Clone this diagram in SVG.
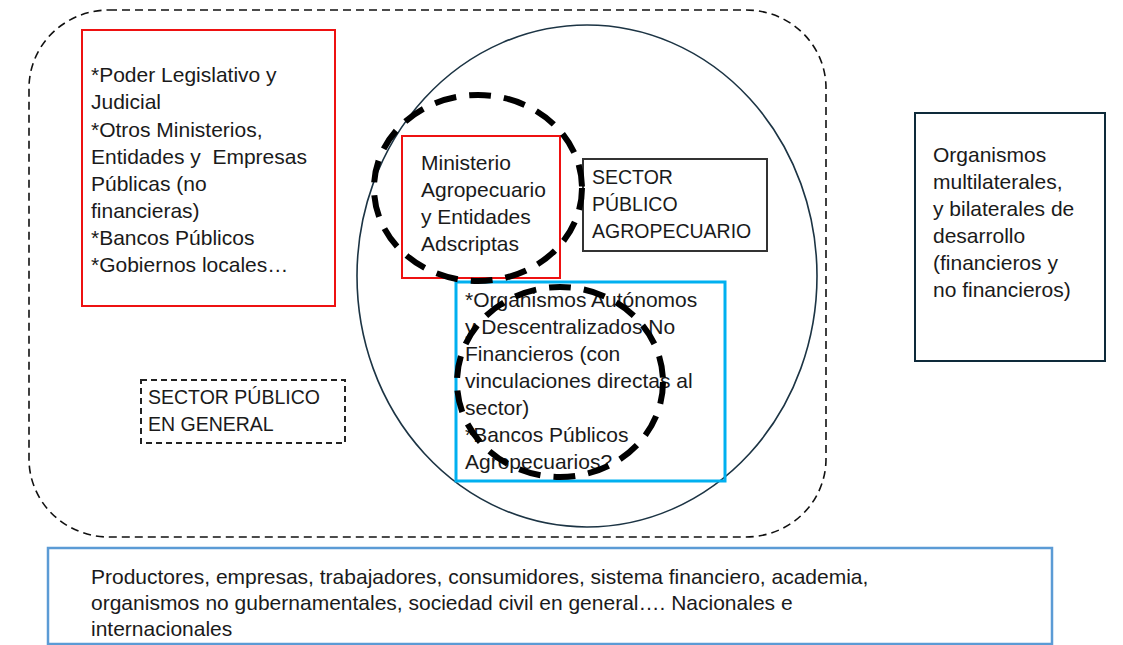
<svg xmlns="http://www.w3.org/2000/svg" width="1123" height="645" viewBox="0 0 1123 645">
<style>
text{font-family:"Liberation Sans",Arial,sans-serif;font-size:21px;fill:#1a1a1a}
text.caps{font-size:19.5px}
.box{fill:none}
.red{stroke:#ee1111;stroke-width:2}
.dc{fill:none;stroke:#000;stroke-width:6;stroke-dasharray:22 13}
</style>
<rect width="1123" height="645" fill="#fff"/>
<g id="sector-publico-general-area">
<rect x="29" y="10" width="797" height="527" rx="80" ry="78" fill="none" stroke="#111" stroke-width="1.6" stroke-dasharray="8 5"/>
</g>
<g id="sector-agro-ellipse">
<ellipse cx="587" cy="276" rx="230" ry="251" fill="none" stroke="#1c3444" stroke-width="1.6"/>
</g>
<g id="otros-entidades">
<rect class="box red" x="82" y="30" width="253" height="276"/>
<text x="91" y="82">*Poder Legislativo y</text>
<text x="91" y="109">Judicial</text>
<text x="91" y="136.5">*Otros Ministerios,</text>
<text x="91" y="163.5" xml:space="preserve">Entidades y  Empresas</text>
<text x="91" y="190.5">Públicas (no</text>
<text x="91" y="217.5">financieras)</text>
<text x="91" y="244.5">*Bancos Públicos</text>
<text x="91" y="271.5">*Gobiernos locales…</text>
</g>
<g id="ministerio">
<rect class="box red" x="402" y="136" width="158" height="142"/>
<text x="421" y="170">Ministerio</text>
<text x="421" y="197">Agropecuario</text>
<text x="421" y="224">y Entidades</text>
<text x="421" y="251">Adscriptas</text>
</g>
<g id="sector-agro-label">
<rect x="583" y="159" width="184" height="92" fill="none" stroke="#333" stroke-width="2"/>
<text class="caps" x="592" y="184">SECTOR</text>
<text class="caps" x="592" y="211">PÚBLICO</text>
<text class="caps" x="592" y="238">AGROPECUARIO</text>
</g>
<g id="organismos-autonomos">
<rect x="456" y="282" width="269" height="199" fill="none" stroke="#00b0f0" stroke-width="3"/>
<text x="465" y="307">*Organismos Autónomos</text>
<text x="465" y="334">y Descentralizados No</text>
<text x="465" y="361">Financieros (con</text>
<text x="465" y="388">vinculaciones directas al</text>
<text x="465" y="415">sector)</text>
<text x="465" y="442">*Bancos Públicos</text>
<text x="465" y="469">Agropecuarios?</text>
</g>
<g id="sector-general-label">
<rect x="141" y="380" width="204" height="63" fill="none" stroke="#222" stroke-width="2" stroke-dasharray="6 4"/>
<text class="caps" x="148" y="404">SECTOR PÚBLICO</text>
<text class="caps" x="148" y="431">EN GENERAL</text>
</g>
<g id="organismos-multilaterales">
<rect x="915" y="113" width="190" height="248" fill="none" stroke="#0e2a3a" stroke-width="2"/>
<text x="933" y="162">Organismos</text>
<text x="933" y="189">multilaterales,</text>
<text x="933" y="216">y bilaterales de</text>
<text x="933" y="243">desarrollo</text>
<text x="933" y="270">(financieros y</text>
<text x="933" y="297">no financieros)</text>
</g>
<g id="sociedad">
<rect x="48" y="548" width="1004" height="96" fill="none" stroke="#5b9bd5" stroke-width="2.5"/>
<text x="91" y="584">Productores, empresas, trabajadores, consumidores, sistema financiero, academia,</text>
<text x="91" y="610">organismos no gubernamentales, sociedad civil en general…. Nacionales e</text>
<text x="91" y="636">internacionales</text>
</g>
<g id="connectors">
<ellipse class="dc" cx="478" cy="188" rx="104" ry="93"/>
<ellipse class="dc" cx="560" cy="382" rx="103" ry="95"/>
</g>
</svg>
